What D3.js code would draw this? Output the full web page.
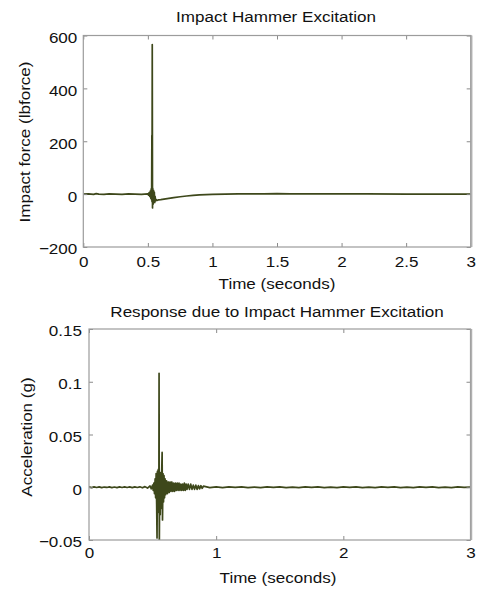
<!DOCTYPE html>
<html>
<head>
<meta charset="utf-8">
<script src="https://cdn.jsdelivr.net/npm/d3@7"></script>
<style>
  body { margin: 0; background: #fff; }
  svg text { font-family: "Liberation Sans", Arial, Helvetica, sans-serif; fill: #111; }
</style>
</head>
<body>
<div id="chart"></div>
<script>
// impact hammer force (lbforce)
const forceTime = [0, 0.04, 0.08, 0.1, 0.12, 0.16, 0.2, 0.25, 0.3, 0.35, 0.4, 0.45, 0.5,
    0.505, 0.51, 0.515, 0.52, 0.523, 0.526, 0.529, 0.531, 0.532, 0.534, 0.536, 0.538,
    0.541, 0.544, 0.547, 0.55, 0.553, 0.556, 0.56, 0.565, 0.57, 0.58, 0.6, 0.65, 0.7,
    0.75, 0.8, 0.85, 0.9, 0.95, 1.0, 1.1, 1.2, 1.3, 1.4, 1.5, 1.6, 1.8, 2.0, 2.2, 2.5,
    2.8, 3.0];
const forceValue = [0, 1, -1, 2, 0, -1, 1, 0, -1, 1, 0, -1, 1,
    -4, 6, -9, 12, -16, 20, -22, 222, -28, 566, -52, 22,
    -38, 14, -30, 8, -32, -8, -26, -20, -24, -22, -21, -17, -13,
    -10, -7, -5, -3, -2, -1, 0, 1, 1, 1, 2, 1, 1, 1, 1, 0,
    0, 0];

// accelerometer response (g)
const accelTime = [
    0, 0.02, 0.04, 0.06, 0.08, 0.1, 0.12, 0.14, 0.16, 0.18,
    0.2, 0.22, 0.24, 0.26, 0.28, 0.3, 0.32, 0.34, 0.36, 0.38,
    0.4, 0.42, 0.44, 0.46, 0.48, 0.49, 0.5, 0.505, 0.51, 0.515,
    0.52, 0.524, 0.528, 0.532, 0.535, 0.538, 0.541, 0.545, 0.549, 0.551,
    0.553, 0.556, 0.56, 0.564, 0.568, 0.572, 0.575, 0.578, 0.582, 0.586,
    0.59, 0.594, 0.598, 0.603, 0.61, 0.617, 0.624, 0.631, 0.638, 0.645,
    0.652, 0.659, 0.666, 0.673, 0.68, 0.687, 0.694, 0.701, 0.708, 0.715,
    0.722, 0.729, 0.736, 0.743, 0.75, 0.757, 0.764, 0.771, 0.78, 0.79,
    0.8, 0.81, 0.82, 0.83, 0.84, 0.85, 0.86, 0.87, 0.88, 0.89,
    0.9, 0.95, 1.0, 1.05, 1.1, 1.15, 1.2, 1.25, 1.3, 1.35,
    1.4, 1.45, 1.5, 1.55, 1.6, 1.65, 1.7, 1.75, 1.8, 1.85,
    1.9, 1.95, 2.0, 2.05, 2.1, 2.15, 2.2, 2.25, 2.3, 2.35,
    2.4, 2.45, 2.5, 2.55, 2.6, 2.65, 2.7, 2.75, 2.8, 2.85,
    2.9, 2.95, 3.0];
const accelValue = [
    0.0003, -0.0003, 0.0004, -0.0002, 0.0003, -0.0004, 0.0002, -0.0002, 0.0003, -0.0003,
    0.0002, -0.0003, 0.0003, -0.0002, 0.0004, -0.0002, 0.0003, -0.0003, 0.0003, -0.0002,
    0.0004, -0.0005, 0.0006, -0.0008, 0.0012, -0.0015, 0.002, -0.003, 0.004, -0.006,
    0.008, -0.010, 0.013, -0.016, -0.048, 0.015, -0.022, 0.017, -0.024, 0.108,
    -0.055, 0.012, -0.026, 0.014, -0.02, 0.016, 0.033, -0.031, 0.013, -0.014,
    0.011, -0.01, 0.008, -0.007, 0.006, -0.006, 0.005, -0.005, 0.005, -0.004,
    0.005, -0.004, 0.004, -0.004, 0.004, -0.003, 0.004, -0.003, 0.004, -0.003,
    0.003, -0.003, 0.003, -0.003, 0.004, -0.003, 0.003, -0.002, 0.003, -0.002,
    0.003, -0.002, 0.002, -0.002, 0.002, -0.002, 0.0015, -0.0015, 0.0015, -0.001,
    0.001, -0.0004, 0.0003, -0.0003, 0.0003, -0.0002, 0.0003, -0.0003, 0.0002, -0.0003,
    0.0003, -0.0002, 0.0003, -0.0003, 0.0002, -0.0003, 0.0003, -0.0002, 0.0003, -0.0003,
    0.0002, -0.0003, 0.0003, -0.0002, 0.0003, -0.0003, 0.0002, -0.0003, 0.0003, -0.0002,
    0.0003, -0.0003, 0.0002, -0.0003, 0.0003, -0.0002, 0.0003, -0.0003, 0.0002, -0.0003,
    0.0003, -0.0002, 0.0001];

const forceXTicks = [0, 0.5, 1, 1.5, 2, 2.5, 3];
const forceYTicks = [-200, 0, 200, 400, 600];
const accelXTicks = [0, 1, 2, 3];
const accelYTicks = [-0.05, 0, 0.05, 0.1, 0.15];

const W = 477, H = 590;
const SX = 1.1;           // text is drawn a little wider than Arial
const FONT = "15.5px";
const lineColor = "#3e481b";

const fmt = d => (d < 0 ? "\u2212" : "") + Math.abs(d);

const svg = d3.select("#chart")
    .append("svg")
    .attr("width", W)
    .attr("height", H);

function drawPanel(p) {
    const width = p.right - p.left,
        height = p.bottom - p.top;

    const g = svg.append("g")
        .attr("transform", "translate(" + p.left + "," + p.top + ")");

    const x = d3.scaleLinear().domain(p.xDomain).range([0, width]);
    const y = d3.scaleLinear().domain(p.yDomain).range([height, 0]);

    g.append("rect")
        .attr("width", width)
        .attr("height", height)
        .attr("fill", "#fff");

    g.append("clipPath").attr("id", p.id + "_clip")
        .append("rect")
        .attr("width", width)
        .attr("height", height);

    // data line
    g.append("path")
        .datum(d3.zip(p.times, p.values))
        .attr("clip-path", "url(#" + p.id + "_clip)")
        .attr("fill", "none")
        .attr("stroke", lineColor)
        .attr("stroke-width", 1.7)
        .attr("stroke-linejoin", "round")
        .attr("d", d3.line().x(d => x(d[0])).y(d => y(d[1])));

    // axes, ticks pointing inward like matlab
    const xAxis = g.append("g")
        .attr("transform", "translate(0," + height + ")")
        .call(d3.axisBottom(x).tickValues(p.xTicks).tickFormat(fmt)
            .tickSize(-4).tickPadding(p.xPad));
    const yAxis = g.append("g")
        .call(d3.axisLeft(y).tickValues(p.yTicks).tickFormat(fmt)
            .tickSize(-4).tickPadding(p.yPad));
    g.append("g")
        .call(d3.axisTop(x).tickValues(p.xTicks).tickFormat("").tickSize(-4));
    g.append("g")
        .attr("transform", "translate(" + width + ",0)")
        .call(d3.axisRight(y).tickValues(p.yTicks).tickFormat("").tickSize(-4));

    g.selectAll(".domain").remove();
    g.selectAll(".tick line").attr("stroke", "#8a8a8a");
    g.selectAll(".tick text")
        .attr("font-size", FONT)
        .attr("font-family", null)
        .attr("fill", "#111");
    xAxis.selectAll(".tick text").attr("transform", "scale(" + SX + ",1)");
    yAxis.selectAll(".tick text")
        .attr("x", -p.yPad / SX)
        .attr("dy", "0.45em")
        .attr("transform", "scale(" + SX + ",1)");

    // box
    g.append("rect")
        .attr("width", width)
        .attr("height", height)
        .attr("fill", "none")
        .attr("stroke", "#9c9c9c")
        .attr("stroke-width", 1.2);
    g.append("line")
        .attr("x1", width + 1).attr("x2", width + 1)
        .attr("y1", 0).attr("y2", height)
        .attr("stroke", "#b0b0b0")
        .attr("stroke-width", 1.5);

    // labels
    svg.append("text")
        .attr("text-anchor", "middle")
        .attr("font-size", FONT)
        .attr("transform", "translate(" + p.titleX + "," + p.titleY + ") scale(" + SX + ",1)")
        .text(p.title);
    svg.append("text")
        .attr("text-anchor", "middle")
        .attr("font-size", FONT)
        .attr("transform", "translate(" + p.xLabelX + "," + p.xLabelY + ") scale(" + SX + ",1)")
        .text(p.xLabel);
    svg.append("text")
        .attr("text-anchor", "middle")
        .attr("font-size", FONT)
        .attr("transform", "translate(" + p.yLabelX + "," + p.yLabelY + ") rotate(-90) scale(" + SX + ",1)")
        .text(p.yLabel);
}

drawPanel({
    id: "force",
    left: 83.3, right: 470.7, top: 35.5, bottom: 247,
    xDomain: [0, 3], yDomain: [-200, 600],
    xTicks: forceXTicks, yTicks: forceYTicks,
    times: forceTime, values: forceValue,
    xPad: 9, yPad: 6,
    title: "Impact Hammer Excitation", titleX: 276, titleY: 22,
    xLabel: "Time (seconds)", xLabelX: 277, xLabelY: 289,
    yLabel: "Impact force (lbforce)", yLabelX: 30, yLabelY: 142
});

drawPanel({
    id: "accel",
    left: 89, right: 470.5, top: 329, bottom: 540,
    xDomain: [0, 3], yDomain: [-0.05, 0.15],
    xTicks: accelXTicks, yTicks: accelYTicks,
    times: accelTime, values: accelValue,
    xPad: 7, yPad: 7,
    title: "Response due to Impact Hammer Excitation", titleX: 277, titleY: 317,
    xLabel: "Time (seconds)", xLabelX: 278, xLabelY: 583,
    yLabel: "Acceleration (g)", yLabelX: 32, yLabelY: 437
});
</script>
</body>
</html>
